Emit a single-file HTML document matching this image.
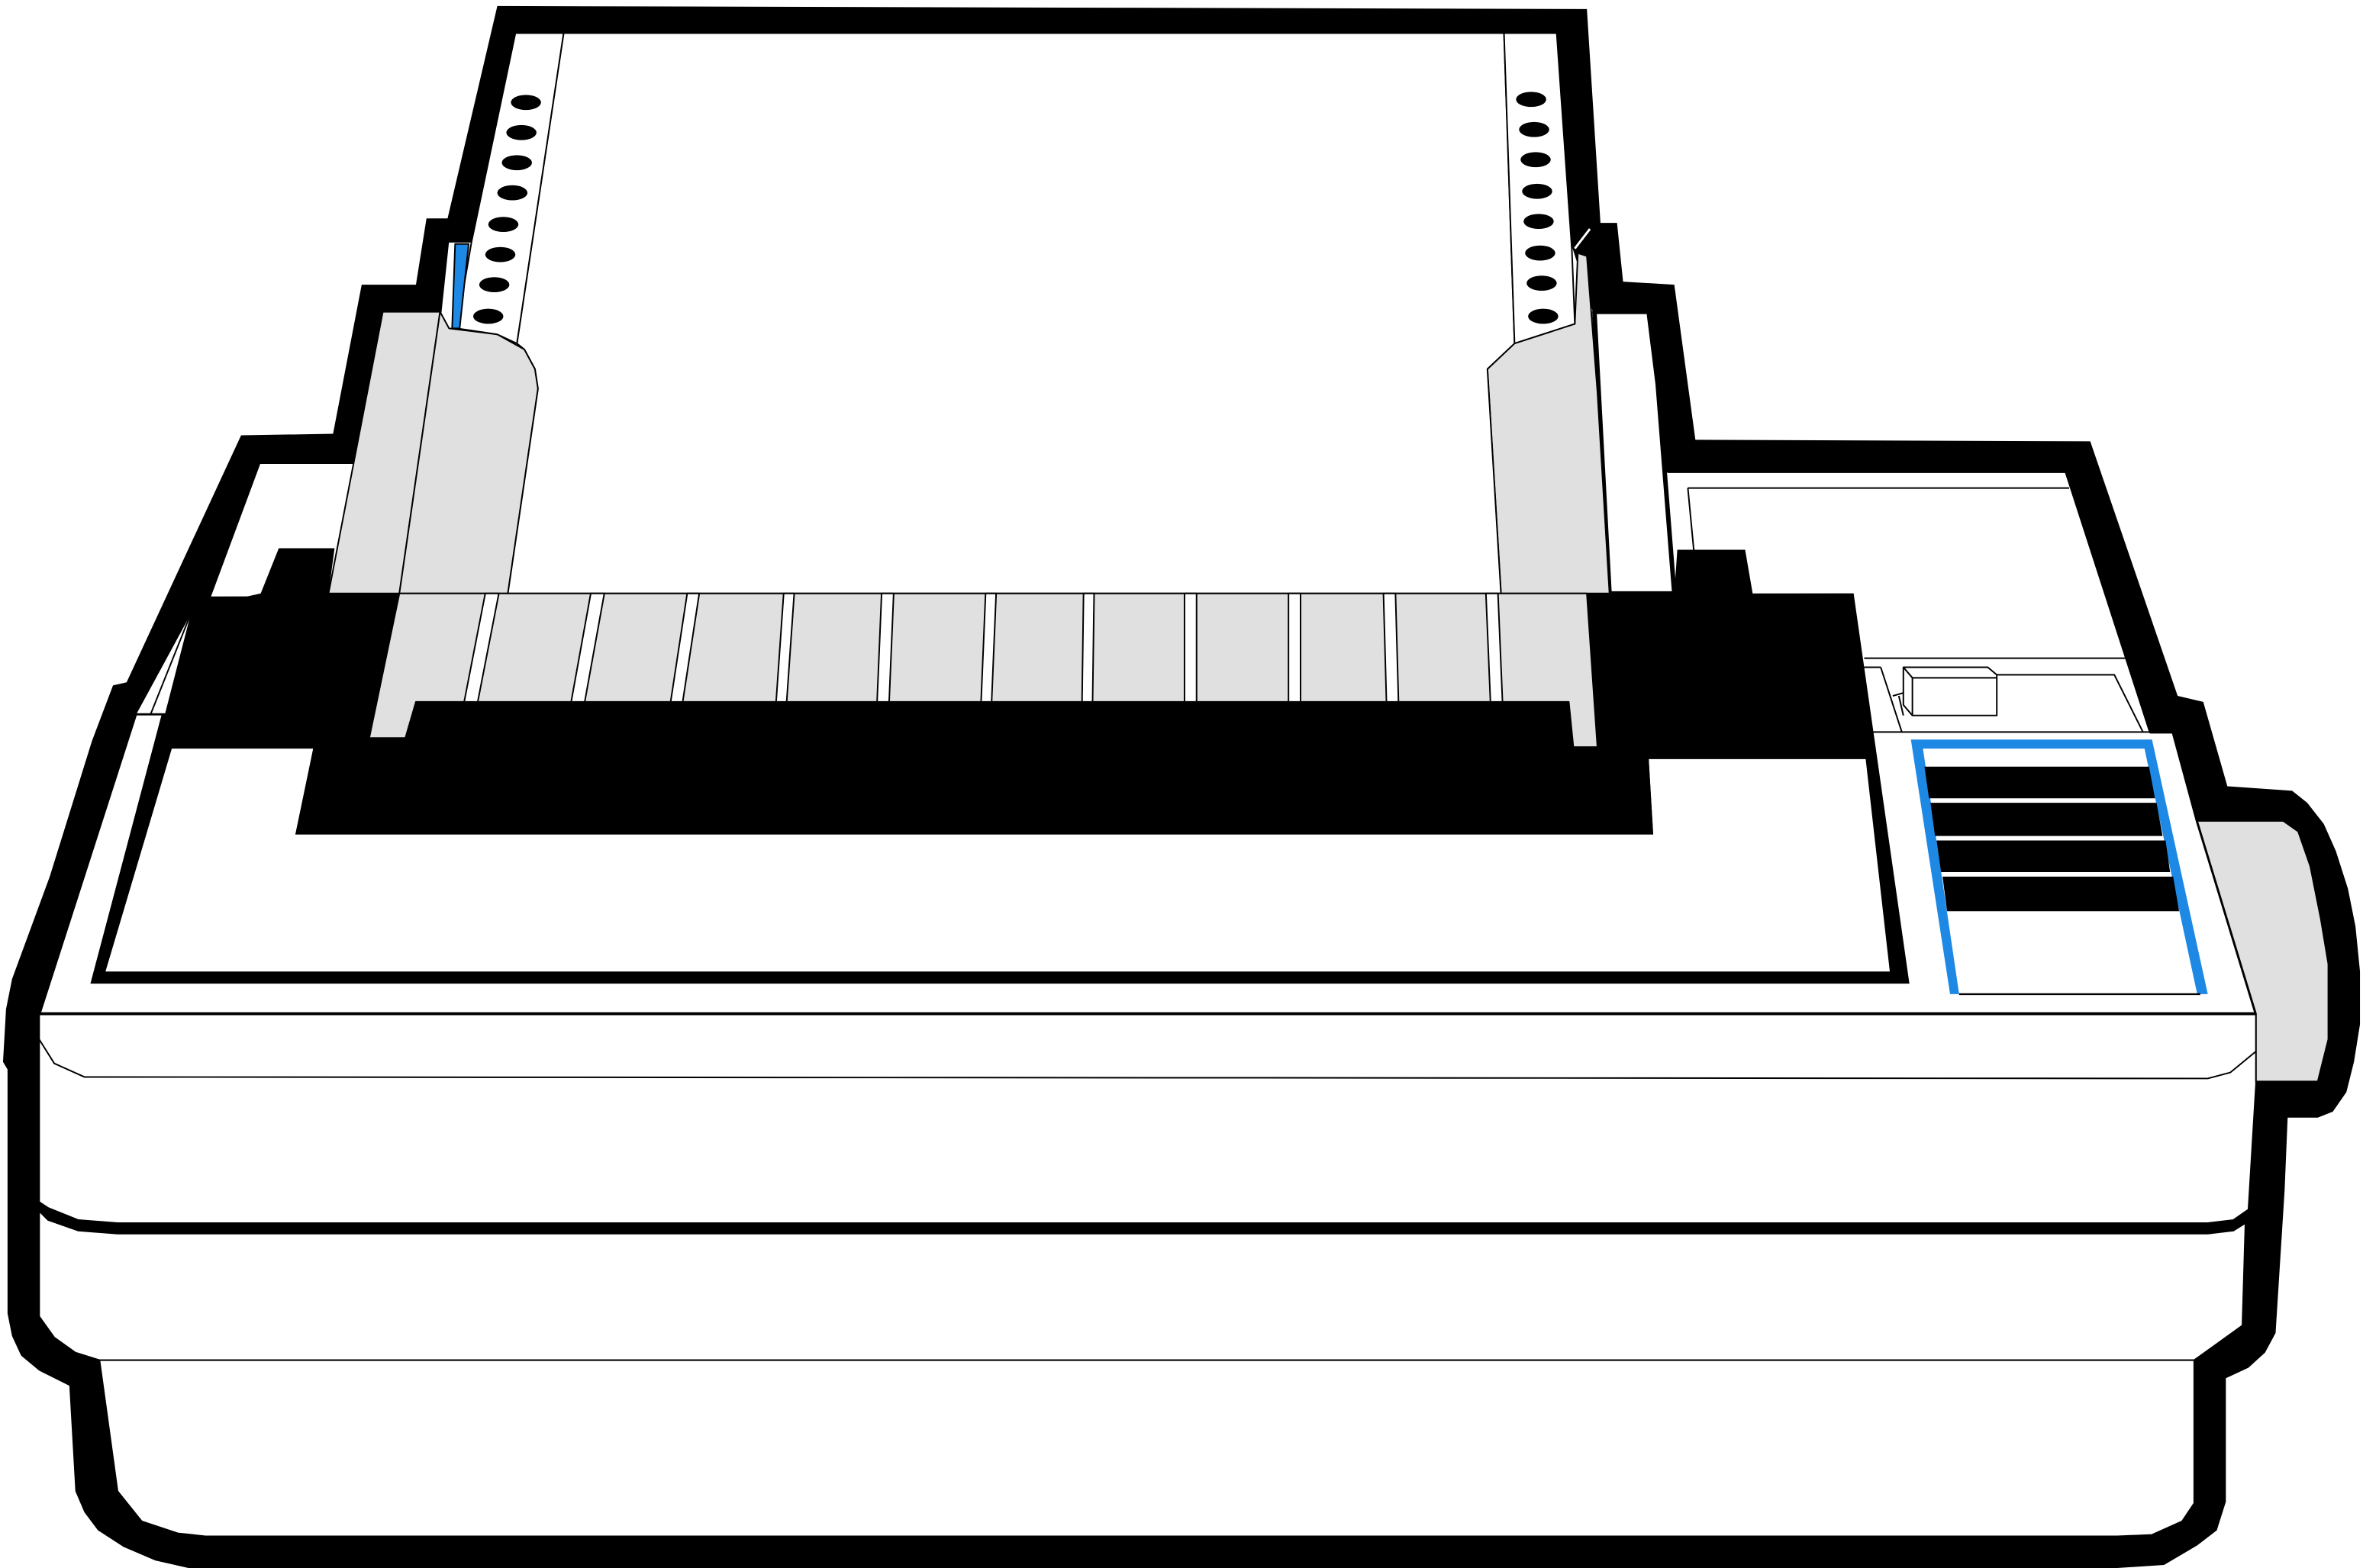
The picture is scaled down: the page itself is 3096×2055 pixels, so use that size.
<!DOCTYPE html>
<html><head><meta charset="utf-8"><style>
html,body{margin:0;padding:0;background:#fff;width:3096px;height:2055px;overflow:hidden}
svg{display:block}
</style></head><body>
<svg width="3096" height="2055" viewBox="0 0 1568 1041" preserveAspectRatio="none" xmlns="http://www.w3.org/2000/svg">
<g stroke-linejoin="round">
<polygon fill="#000" points="330,4 1053,6 1062,148 1073,148 1077,187 1111,189 1125,292 1387,293 1445,462 1462,466 1478,522 1521,525 1531,533 1542,547 1550,565 1558,590 1563,615 1566,645 1566,680 1562,705 1557,725 1548,738 1538,742 1518,742 1516,790 1510,885 1503,898 1492,908 1477,915 1477,997 1471,1016 1458,1026 1436,1039 1405,1041 125,1041 103,1036 82,1027 65,1016 56,1004 50,990 46,920 26,910 14,900 8,887 5,872 5,710 2,705 4,670 8,650 33,582 61,492 75,455 84,453 160,289 221,288 240,189 276,189 283,145 297,145"/>

<polygon fill="#fff" stroke="#000" stroke-width="1" points="26,673 1497,673 1497,720 1492,803 1482,810 1465,812 78,812 52,810 32,802 26,798"/>
<polyline fill="none" stroke="#000" stroke-width="1" points="26,690 36,706 56,715 1465,716 1480,712 1497,698"/>
<polygon fill="#fff" stroke="#000" stroke-width="1" points="26,804 32,810 52,817 78,819 1465,819 1482,817 1490,812 1488,880 1470,893 1456,903 66,903 50,898 36,888 26,874"/>
<polygon fill="#fff" stroke="#000" stroke-width="1" points="66,903 1456,903 1456,998 1448,1010 1428,1019 1405,1020 137,1020 118,1018 94,1010 78,990"/>

<polygon fill="#fff" stroke="#000" stroke-width="2" points="26,673 90,474 110,474 172,307 234,307 254,207 292,207 297,160 1043,160 1058,207 1094,207 1100,255 1107,313 1371,313 1427,486 1442,486 1458,545 1497,673"/>
<line x1="1120" y1="324" x2="1373" y2="324" stroke="#000" stroke-width="1"/>
<line x1="1120" y1="324" x2="1124" y2="366" stroke="#000" stroke-width="1"/>

<polygon fill="#e0e0e0" stroke="#000" stroke-width="1" points="1458,545 1515,545 1525,552 1533,575 1540,610 1545,640 1545,690 1538,718 1497,718 1497,673"/>

<line x1="1237" y1="437" x2="1415" y2="437" stroke="#000" stroke-width="1"/>
<line x1="1237" y1="443" x2="1248" y2="443" stroke="#000" stroke-width="1"/>
<line x1="1248" y1="443" x2="1262" y2="486" stroke="#000" stroke-width="1"/>
<polyline fill="none" stroke="#000" stroke-width="1" points="1325,448 1403,448 1422,486"/>
<line x1="1237" y1="486" x2="1442" y2="486" stroke="#000" stroke-width="1"/>
<polygon fill="#fff" stroke="#000" stroke-width="1" points="1263,443 1319,443 1325,448 1325,475 1269,475 1263,468"/>
<line x1="1263" y1="443" x2="1269" y2="450" stroke="#000" stroke-width="1"/>
<line x1="1269" y1="450" x2="1269" y2="475" stroke="#000" stroke-width="1"/>
<line x1="1269" y1="450" x2="1325" y2="450" stroke="#000" stroke-width="1"/>
<line x1="1256" y1="462" x2="1263" y2="460" stroke="#000" stroke-width="1"/>
<line x1="1260" y1="462" x2="1263" y2="475" stroke="#000" stroke-width="1"/>

<polygon fill="#000" points="60,653 128,396 1230,394 1267,653"/>
<polygon fill="#fff" points="70,645 114,497 208,497 196,554 1097,554 1094,504 1238,504 1254,645"/>
<polygon fill="#fff" stroke="#000" stroke-width="1" points="90,474 128,404 110,474"/>
<line x1="100" y1="474" x2="128" y2="404" stroke="#000" stroke-width="1"/>

<polygon fill="#000" points="185,364 222,364 218,394 1111,394 1113,365 1158,365 1163,394 1230,394 1238,503 1094,503 1097,554 196,554 208,496 113,496 128,404 173,394"/>

<polygon fill="#1e88e5" points="1268,491 1428,491 1465,660 1294,660"/>
<polygon fill="#fff" points="1276,497 1423,497 1458,660 1300,660"/>
<polygon fill="#000" points="1277,509 1426,509 1430,530 1280,530"/>
<polygon fill="#000" points="1281,533 1431,533 1435,555 1284,555"/>
<polygon fill="#000" points="1285,558 1437,558 1440,579 1288,579"/>
<polygon fill="#000" points="1289,582 1442,582 1446,605 1292,605"/>
<line x1="1300" y1="660" x2="1460" y2="660" stroke="#000" stroke-width="1.2"/>

<polygon fill="#fff" stroke="#000" stroke-width="3" points="1058,207 1094,207 1100,255 1111,394 1068,394"/>

<polygon fill="#e0e0e0" stroke="#000" stroke-width="1" points="254,207 292,207 265,394 218,394"/>
<polygon fill="#e0e0e0" stroke="#000" stroke-width="1" points="292,207 298,218 330,222 348,232 355,245 357,258 337,394 265,394"/>
<polygon fill="#e0e0e0" stroke="#000" stroke-width="1" points="1005,228 1045,215 1047,168 1053,170 1060,260 1068,394 996,394 987,245"/>

<polygon fill="#fff" stroke="#000" stroke-width="1" points="374,22 998,22 1005,228 987,245 996,394 337,394 357,258 355,245 348,232 343,228"/>
<polygon fill="#fff" stroke="#000" stroke-width="1" points="342,22 374,22 343,228 330,222 303,218 313,160"/>
<polygon fill="#fff" stroke="#000" stroke-width="1" points="998,22 1033,22 1043,165 1045,215 1005,228"/>
<line x1="1045" y1="165" x2="1055" y2="152" stroke="#fff" stroke-width="1.5"/>
<polygon fill="#1e88e5" stroke="#000" stroke-width="1" points="302,162 311,162 305,218 300,218"/>

<g fill="#000">
<ellipse cx="349" cy="68" rx="10" ry="5"/>
<ellipse cx="346" cy="88" rx="10" ry="5"/>
<ellipse cx="343" cy="108" rx="10" ry="5"/>
<ellipse cx="340" cy="128" rx="10" ry="5"/>
<ellipse cx="334" cy="149" rx="10" ry="5"/>
<ellipse cx="332" cy="169" rx="10" ry="5"/>
<ellipse cx="328" cy="189" rx="10" ry="5"/>
<ellipse cx="324" cy="210" rx="10" ry="5"/>
<ellipse cx="1016" cy="66" rx="10" ry="5"/>
<ellipse cx="1018" cy="86" rx="10" ry="5"/>
<ellipse cx="1019" cy="106" rx="10" ry="5"/>
<ellipse cx="1020" cy="127" rx="10" ry="5"/>
<ellipse cx="1021" cy="147" rx="10" ry="5"/>
<ellipse cx="1022" cy="168" rx="10" ry="5"/>
<ellipse cx="1023" cy="188" rx="10" ry="5"/>
<ellipse cx="1024" cy="210" rx="10" ry="5"/>
</g>

<polygon fill="#e0e0e0" stroke="#000" stroke-width="1" points="265,394 1053,394 1060,496 1044,496 1041,466 276,466 269,490 245,490"/>
<g stroke="#000" stroke-width="1" fill="#fff">
<polygon points="322,394 331,394 317,466 308,466"/>
<polygon points="392,394 401,394 388,466 379,466"/>
<polygon points="456,394 464,394 453,466 445,466"/>
<polygon points="520,394 527,394 522,466 515,466"/>
<polygon points="585,394 593,394 590,466 582,466"/>
<polygon points="654,394 661,394 658,466 651,466"/>
<polygon points="719,394 726,394 725,466 718,466"/>
<polygon points="786,394 794,394 794,466 786,466"/>
<polygon points="855,394 863,394 863,466 855,466"/>
<polygon points="918,394 926,394 928,466 920,466"/>
<polygon points="986,394 994,394 997,466 989,466"/>
</g>
</g>
</svg>
</body></html>
